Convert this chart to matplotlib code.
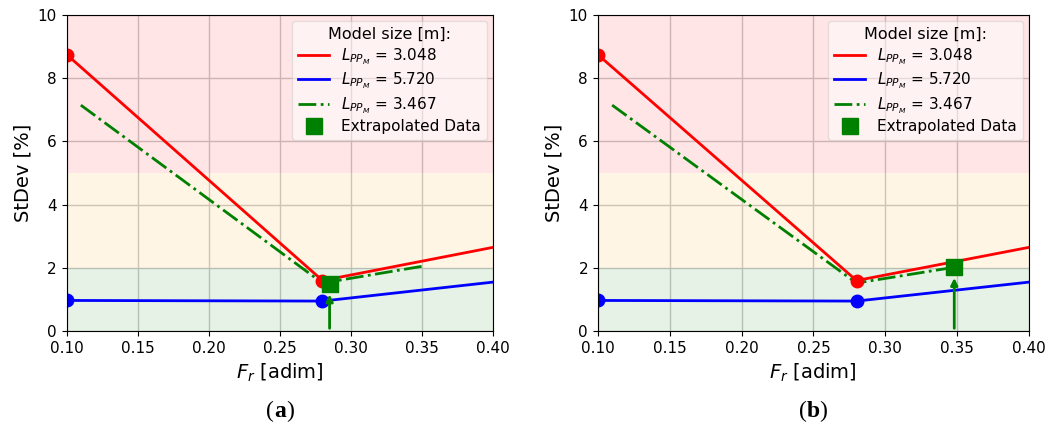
import matplotlib
matplotlib.use('Agg')
import matplotlib.pyplot as plt

# data
fr_red = [0.10, 0.28, 0.40]
sd_red = [8.75, 1.60, 2.65]
fr_blue = [0.10, 0.28, 0.40]
sd_blue = [0.97, 0.95, 1.55]
fr_green = [0.11, 0.28, 0.35]
sd_green = [7.15, 1.52, 2.05]
fr_green_b = [0.11, 0.28, 0.348]
sd_green_b = [7.15, 1.52, 2.02]
extrap = [(0.285, 1.50), (0.348, 2.02)]
captions = ['a', 'b']

fig = plt.figure(figsize=(10.58, 4.30), dpi=100)
ax1 = fig.add_axes([0.063, 0.230, 0.403, 0.735])
ax2 = fig.add_axes([0.565, 0.230, 0.4076, 0.735])

for ax, gx, gy, (ex, ey), cap in zip([ax1, ax2], [fr_green, fr_green_b],
                                     [sd_green, sd_green_b], extrap, captions):
    ax.axhspan(5, 10, color='red', alpha=0.1, lw=0)
    ax.axhspan(2, 5, color='orange', alpha=0.1, lw=0)
    ax.axhspan(0, 2, color='green', alpha=0.1, lw=0)
    ax.plot(fr_red, sd_red, 'r-', lw=2, label='$L_{PP_M}$ = 3.048')
    ax.plot(fr_blue, sd_blue, 'b-', lw=2, label='$L_{PP_M}$ = 5.720')
    ax.plot(gx, gy, color='green', ls='-.', lw=2, label='$L_{PP_M}$ = 3.467')
    ax.plot(fr_red[:2], sd_red[:2], 'o', color='red', ms=9)
    ax.plot(fr_blue[:2], sd_blue[:2], 'o', color='blue', ms=9)
    ax.plot([ex], [ey], 's', color='green', ms=12, label='Extrapolated Data')
    ax.annotate('', xy=(ex, ey - 0.25), xytext=(ex, 0),
                arrowprops=dict(arrowstyle='-|>', color='green', lw=2))
    ax.set_xlim(0.10, 0.40)
    ax.set_ylim(0, 10)
    ax.set_xticks([0.10, 0.15, 0.20, 0.25, 0.30, 0.35, 0.40])
    ax.set_xticklabels(['0.10', '0.15', '0.20', '0.25', '0.30', '0.35', '0.40'])
    ax.set_yticks([0, 2, 4, 6, 8, 10])
    ax.tick_params(labelsize=11)
    ax.grid(True, color='#c8c8c8', lw=1)
    ax.set_axisbelow(True)
    ax.set_xlabel('$F_r$ [adim]', fontsize=14)
    ax.set_ylabel('StDev [%]', fontsize=14)
    ax.legend(title='Model size [m]:', loc='upper right', fontsize=11,
              title_fontsize=11.5, framealpha=0.5, labelspacing=0.25,
              borderaxespad=0.4)
    ax.annotate(cap, xy=(0.5, -0.255), xycoords='axes fraction', ha='center',
                va='center', fontsize=17, family='Liberation Serif',
                weight='bold')
    ax.annotate('(', xy=(0.5, -0.255), xycoords='axes fraction',
                xytext=(-4.5, 0), textcoords='offset points', ha='right',
                va='center', fontsize=17, family='Liberation Serif')
    ax.annotate(')', xy=(0.5, -0.255), xycoords='axes fraction',
                xytext=(4.5, 0), textcoords='offset points', ha='left',
                va='center', fontsize=17, family='Liberation Serif')

fig.savefig('out.png', dpi=100)
